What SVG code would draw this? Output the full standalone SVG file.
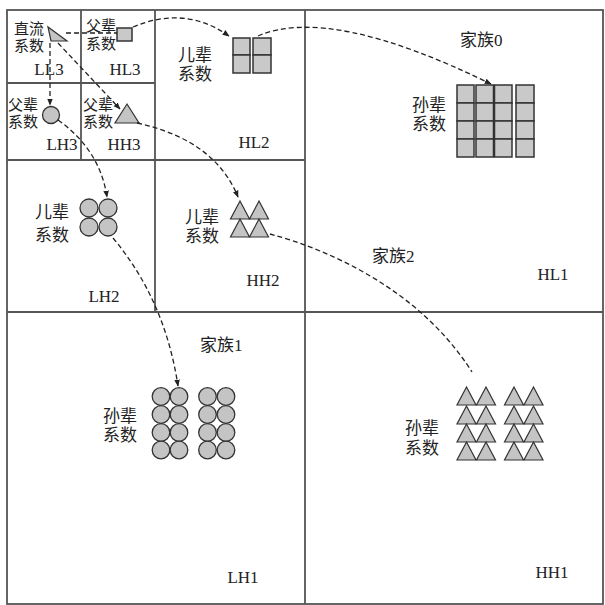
<svg xmlns="http://www.w3.org/2000/svg" width="605" height="605" viewBox="0 0 605 605">
<defs>
<style>
.frame{fill:none;stroke:#555;stroke-width:1.8}
.cell{fill:#c9c9c9;stroke:#333;stroke-width:1.5}
.circ{fill:#c4c4c4;stroke:#333;stroke-width:1.3}
.tri{fill:#c4c4c4;stroke:#333;stroke-width:1.2;stroke-linejoin:miter}
.cn{font-family:"Liberation Serif","Noto Sans CJK SC",serif;font-size:17px;fill:#222}
.cs{font-family:"Liberation Serif","Noto Sans CJK SC",serif;font-size:15px;fill:#222}
.lb{font-family:"Liberation Serif",serif;font-size:17px;fill:#222}
.dash{fill:none;stroke:#222;stroke-width:1.3;stroke-dasharray:5 3}
</style>
<marker id="arr" viewBox="0 0 10 10" refX="9" refY="5" markerWidth="7" markerHeight="7" orient="auto" markerUnits="userSpaceOnUse">
<path d="M0,1 L10,5 L0,9 Z" fill="#222"/>
</marker>
<circle id="c" r="8.8" class="circ"/>
<path id="t" d="M0,-18 L9.5,0 L-9.5,0 Z" class="tri"/>
</defs>
<rect width="605" height="605" fill="#fff"/>
<g id="grid">
<rect x="7" y="10" width="596" height="594" class="frame"/>
<line x1="305" y1="10" x2="305" y2="604" class="frame"/>
<line x1="7" y1="312" x2="603" y2="312" class="frame"/>
<line x1="155" y1="10" x2="155" y2="312" class="frame"/>
<line x1="7" y1="160" x2="305" y2="160" class="frame"/>
<line x1="81" y1="10" x2="81" y2="160" class="frame"/>
<line x1="7" y1="83" x2="155" y2="83" class="frame"/>
</g>
<g id="LL3">
<text x="14" y="34" class="cs">直流</text>
<text x="14" y="51" class="cs">系数</text>
<path d="M48,27 L51,41 L67,41 Z" class="tri"/>
<text x="49" y="75" class="lb" text-anchor="middle">LL3</text>
</g>
<g id="HL3">
<text x="86" y="31" class="cs">父辈</text>
<text x="86" y="49" class="cs">系数</text>
<rect x="117" y="28" width="15" height="13" class="cell"/>
<text x="125" y="75" class="lb" text-anchor="middle">HL3</text>
</g>
<g id="LH3">
<text x="8" y="110" class="cs">父辈</text>
<text x="8" y="127" class="cs">系数</text>
<circle cx="51" cy="115" r="8.5" class="circ"/>
<text x="62" y="150" class="lb" text-anchor="middle">LH3</text>
</g>
<g id="HH3">
<text x="83" y="110" class="cs">父辈</text>
<text x="83" y="127" class="cs">系数</text>
<path d="M127,104 L139,123 L115,123 Z" class="tri"/>
<text x="124" y="150" class="lb" text-anchor="middle">HH3</text>
</g>
<g id="HL2">
<text x="178" y="61" class="cn">儿辈</text>
<text x="178" y="80" class="cn">系数</text>
<rect x="233" y="38" width="17" height="17" class="cell"/>
<rect x="233" y="55" width="17" height="18" class="cell"/>
<rect x="253" y="38" width="18" height="17" class="cell"/>
<rect x="253" y="55" width="18" height="18" class="cell"/>
<text x="254" y="148" class="lb" text-anchor="middle">HL2</text>
</g>
<g id="LH2">
<text x="35" y="218" class="cn">儿辈</text>
<text x="35" y="241" class="cn">系数</text>
<circle cx="89" cy="208" r="9" class="circ"/>
<circle cx="108" cy="208" r="9" class="circ"/>
<circle cx="89" cy="227" r="9" class="circ"/>
<circle cx="108" cy="227" r="9" class="circ"/>
<text x="104" y="302" class="lb" text-anchor="middle">LH2</text>
</g>
<g id="HH2">
<text x="185" y="223" class="cn">儿辈</text>
<text x="185" y="242" class="cn">系数</text>
<use href="#t" x="240" y="219"/>
<use href="#t" x="259" y="219"/>
<use href="#t" x="240" y="237"/>
<use href="#t" x="259" y="237"/>
<text x="263" y="286" class="lb" text-anchor="middle">HH2</text>
</g>
<g id="HL1">
<text x="460" y="46" class="cn">家族0</text>
<text x="412" y="111" class="cn">孙辈</text>
<text x="412" y="130" class="cn">系数</text>
<g>
<rect x="457" y="85" width="17" height="18" class="cell"/>
<rect x="457" y="103" width="17" height="18" class="cell"/>
<rect x="457" y="121" width="17" height="18" class="cell"/>
<rect x="457" y="139" width="17" height="18" class="cell"/>
<rect x="476" y="85" width="17.5" height="18" class="cell"/>
<rect x="476" y="103" width="17.5" height="18" class="cell"/>
<rect x="476" y="121" width="17.5" height="18" class="cell"/>
<rect x="476" y="139" width="17.5" height="18" class="cell"/>
<rect x="494.5" y="85" width="17.5" height="18" class="cell"/>
<rect x="494.5" y="103" width="17.5" height="18" class="cell"/>
<rect x="494.5" y="121" width="17.5" height="18" class="cell"/>
<rect x="494.5" y="139" width="17.5" height="18" class="cell"/>
<rect x="516" y="85" width="18" height="18" class="cell"/>
<rect x="516" y="103" width="18" height="18" class="cell"/>
<rect x="516" y="121" width="18" height="18" class="cell"/>
<rect x="516" y="139" width="18" height="18" class="cell"/>
</g>
<text x="372" y="262" class="cn">家族2</text>
<text x="553" y="280" class="lb" text-anchor="middle">HL1</text>
</g>
<g id="LH1">
<text x="200" y="351" class="cn">家族1</text>
<text x="103" y="422" class="cn">孙辈</text>
<text x="103" y="441" class="cn">系数</text>
<use href="#c" x="161" y="396.5"/><use href="#c" x="179" y="396.5"/><use href="#c" x="207.5" y="396.5"/><use href="#c" x="226" y="396.5"/>
<use href="#c" x="161" y="414.5"/><use href="#c" x="179" y="414.5"/><use href="#c" x="207.5" y="414.5"/><use href="#c" x="226" y="414.5"/>
<use href="#c" x="161" y="432.5"/><use href="#c" x="179" y="432.5"/><use href="#c" x="207.5" y="432.5"/><use href="#c" x="226" y="432.5"/>
<use href="#c" x="161" y="450"/><use href="#c" x="179" y="450"/><use href="#c" x="207.5" y="450"/><use href="#c" x="226" y="450"/>
<text x="243" y="583" class="lb" text-anchor="middle">LH1</text>
</g>
<g id="HH1">
<text x="405" y="434" class="cn">孙辈</text>
<text x="405" y="454" class="cn">系数</text>
<use href="#t" x="466.5" y="405"/><use href="#t" x="486" y="405"/><use href="#t" x="514" y="405"/><use href="#t" x="533.5" y="405"/>
<use href="#t" x="466.5" y="424"/><use href="#t" x="486" y="424"/><use href="#t" x="514" y="424"/><use href="#t" x="533.5" y="424"/>
<use href="#t" x="466.5" y="442"/><use href="#t" x="486" y="442"/><use href="#t" x="514" y="442"/><use href="#t" x="533.5" y="442"/>
<use href="#t" x="466.5" y="460"/><use href="#t" x="486" y="460"/><use href="#t" x="514" y="460"/><use href="#t" x="533.5" y="460"/>
<text x="552" y="578" class="lb" text-anchor="middle">HH1</text>
</g>
<g id="connectors">
<path d="M66,33 L117,33" class="dash"/>
<path d="M133,27 Q185,5 229,36" class="dash" marker-end="url(#arr)"/>
<path d="M50,43 L50,105" class="dash" marker-end="url(#arr)"/>
<path d="M58,43 L120,109" class="dash" marker-end="url(#arr)"/>
<path d="M258,36 Q330,5 491,84" class="dash" marker-end="url(#arr)"/>
<path d="M58,120 Q100,150 107,197" class="dash" marker-end="url(#arr)"/>
<path d="M137,123 Q215,140 238,197" class="dash" marker-end="url(#arr)"/>
<path d="M113,238 Q165,300 178,386" class="dash" marker-end="url(#arr)"/>
<path d="M270,234 C330,250 420,290 472,372" class="dash"/>
</g>
</svg>
